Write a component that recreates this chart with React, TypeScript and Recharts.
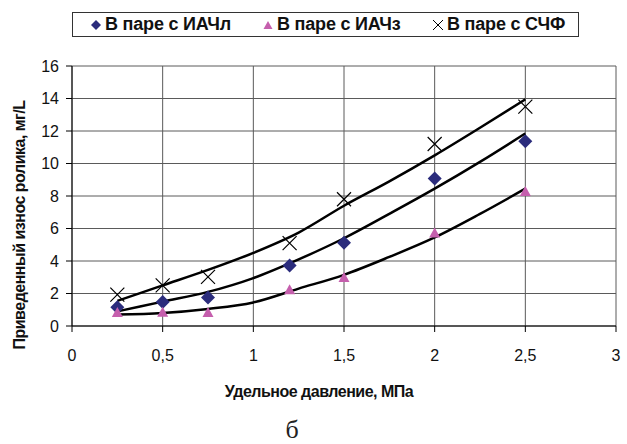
import React from 'react'
import { ComposedChart, Scatter, Line, XAxis, YAxis, CartesianGrid } from 'recharts'

const pressure = [0.25, 0.5, 0.75, 1.2, 1.5, 2.0, 2.5]
const wearIAChl = [1.15, 1.48, 1.75, 3.72, 5.13, 9.07, 11.37]
const wearIAChz = [0.8, 0.82, 0.8, 2.2, 2.95, 5.7, 8.25]
const wearSChF = [1.93, 2.5, 3.02, 5.1, 7.8, 11.2, 13.5]

const trendX = [0.25, 0.5, 0.75, 1.0, 1.25, 1.5, 1.75, 2.0, 2.25, 2.5]
const trendIAChl = [0.9, 1.5, 2.1, 2.95, 4.1, 5.4, 6.9, 8.45, 10.1, 11.85]
const trendIAChz = [0.7, 0.8, 1.05, 1.45, 2.3, 3.15, 4.25, 5.45, 6.9, 8.45]
const trendSChF = [1.55, 2.5, 3.45, 4.5, 5.75, 7.4, 8.9, 10.5, 12.2, 13.95]

const xTicks = [0, 0.5, 1, 1.5, 2, 2.5, 3]
const yTicks = [0, 2, 4, 6, 8, 10, 12, 14, 16]

const legendNames = ['В паре с ИАЧл', 'В паре с ИАЧз', 'В паре с СЧФ']

const NAVY = '#2b2c7c'
const PINK = '#c55fad'

const pts = (ys: number[]) => pressure.map((x, i) => ({ x, y: ys[i] }))
const trend = (ys: number[]) => trendX.map((x, i) => ({ x, y: ys[i] }))

const Diamond = (p: any) => (
    <path d={`M${p.cx},${p.cy - 7} L${p.cx + 7},${p.cy} L${p.cx},${p.cy + 7} L${p.cx - 7},${p.cy} Z`} fill={NAVY} />
)
const Triangle = (p: any) => (
    <path d={`M${p.cx},${p.cy - 6} L${p.cx + 5.5},${p.cy + 4} L${p.cx - 5.5},${p.cy + 4} Z`} fill={PINK} />
)
const Cross = (p: any) => (
    <path d={`M${p.cx - 7},${p.cy - 7} L${p.cx + 7},${p.cy + 7} M${p.cx + 7},${p.cy - 7} L${p.cx - 7},${p.cy + 7}`} stroke="#000" strokeWidth={1.2} fill="none" />
)

const font = '"Liberation Sans", Arial, sans-serif'

const legendMarkers = [
    <svg width="12" height="12" key="d"><path d="M6,1 L11,6 L6,11 L1,6 Z" fill={NAVY} /></svg>,
    <svg width="12" height="12" key="t"><path d="M6,2 L10.5,10 L1.5,10 Z" fill={PINK} /></svg>,
    <svg width="12" height="12" key="c"><path d="M1,1 L11,11 M11,1 L1,11" stroke="#000" strokeWidth={1} /></svg>,
]

export default function App() {
    return (
        <div style={{ position: 'absolute', left: 0, top: 0, width: 627, height: 444, background: '#fff', fontFamily: font }}>
            <ComposedChart width={627} height={444} margin={{ top: 66, right: 11, left: 0, bottom: 68 }}>
                <CartesianGrid stroke="#5a5a5a" strokeWidth={1} />
                <XAxis
                    type="number"
                    dataKey="x"
                    domain={[0, 3]}
                    ticks={xTicks}
                    interval={0}
                    height={50}
                    stroke="#000"
                    tickSize={6}
                    tickFormatter={(v: number) => String(v).replace('.', ',')}
                    tick={{ fill: '#111', fontSize: 16, fontFamily: font, dy: 16 }}
                />
                <YAxis
                    type="number"
                    dataKey="y"
                    domain={[0, 16]}
                    ticks={yTicks}
                    interval={0}
                    width={72}
                    stroke="#000"
                    tickSize={6}
                    tick={{ fill: '#111', fontSize: 16, fontFamily: font, dx: -5 }}
                />
                <Line data={trend(trendSChF)} dataKey="y" type="monotone" stroke="#000" strokeWidth={2.5} dot={false} isAnimationActive={false} />
                <Line data={trend(trendIAChl)} dataKey="y" type="monotone" stroke="#000" strokeWidth={2.5} dot={false} isAnimationActive={false} />
                <Line data={trend(trendIAChz)} dataKey="y" type="monotone" stroke="#000" strokeWidth={2.5} dot={false} isAnimationActive={false} />
                <Scatter data={pts(wearIAChl)} dataKey="y" shape={Diamond} isAnimationActive={false} />
                <Scatter data={pts(wearIAChz)} dataKey="y" shape={Triangle} isAnimationActive={false} />
                <Scatter data={pts(wearSChF)} dataKey="y" shape={Cross} isAnimationActive={false} />
            </ComposedChart>

            {/* legend box */}
            <div style={{ position: 'absolute', left: 72, top: 12, width: 505, height: 23, border: '1px solid #333', display: 'flex', alignItems: 'center', fontWeight: 'bold', fontSize: 18, letterSpacing: -0.2, color: '#111' }}>
                {legendNames.map((n, i) => (
                    <div key={n} style={{ position: 'absolute', left: [17, 189, 359][i], display: 'flex', alignItems: 'center', gap: 3 }}>
                        {legendMarkers[i]}
                        <span>{n}</span>
                    </div>
                ))}
            </div>

            {/* y axis title */}
            <div style={{ position: 'absolute', left: 20, top: 225, transform: 'translate(-50%, -50%) rotate(-90deg)', whiteSpace: 'nowrap', fontWeight: 'bold', fontSize: 16, letterSpacing: -0.5, color: '#111' }}>
                Приведенный износ ролика, мг/L
            </div>

            {/* x axis title */}
            <div style={{ position: 'absolute', left: 319, top: 392, transform: 'translate(-50%, -50%)', whiteSpace: 'nowrap', fontWeight: 'bold', fontSize: 16, letterSpacing: -0.5, color: '#111' }}>
                Удельное давление, МПа
            </div>

            {/* caption */}
            <div style={{ position: 'absolute', left: 292, top: 430, transform: 'translate(-50%, -50%)', fontFamily: '"Liberation Serif", "Times New Roman", serif', fontSize: 26, color: '#222' }}>
                б
            </div>
        </div>
    )
}
